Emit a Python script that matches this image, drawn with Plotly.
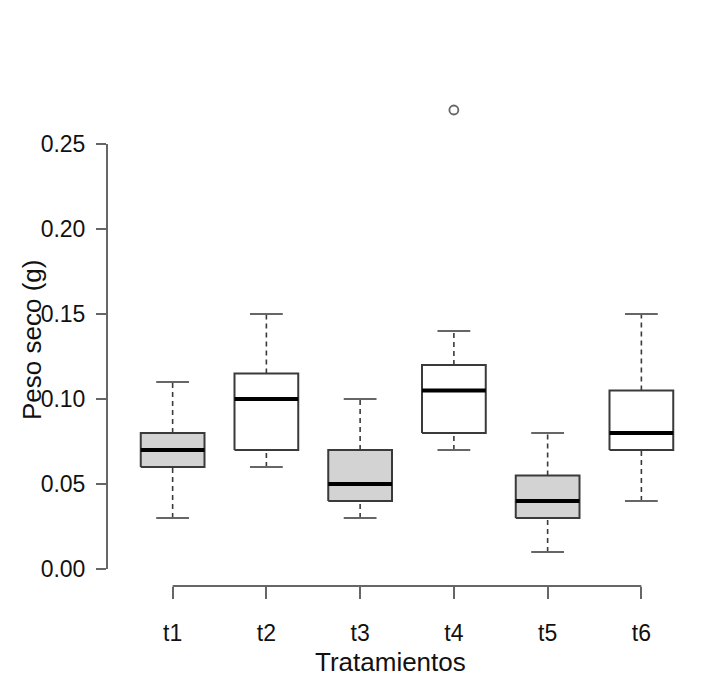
import plotly.graph_objects as go

categories = ["t1", "t2", "t3", "t4", "t5", "t6"]
lower_whisker = [0.03, 0.06, 0.03, 0.07, 0.01, 0.04]
q1 = [0.06, 0.07, 0.04, 0.08, 0.03, 0.07]
median = [0.07, 0.10, 0.05, 0.105, 0.04, 0.08]
q3 = [0.08, 0.115, 0.07, 0.12, 0.055, 0.105]
upper_whisker = [0.11, 0.15, 0.10, 0.14, 0.08, 0.15]
fills = ["#d3d3d3", "#ffffff", "#d3d3d3", "#ffffff", "#d3d3d3", "#ffffff"]
outlier_cat = ["t4"]
outlier_val = [0.27]
yticks = [0.00, 0.05, 0.10, 0.15, 0.20, 0.25]

HW = 0.34   # box half width (category units)
CW = 0.175  # cap half width
LINE = "#3a3a3a"
AX = "#666666"

fig = go.Figure()
pos = {c: i + 1 for i, c in enumerate(categories)}

# whiskers (dashed)
wx, wy = [], []
for i, c in enumerate(categories):
    p = pos[c]
    wx += [p, p, None, p, p, None]
    wy += [lower_whisker[i], q1[i], None, q3[i], upper_whisker[i], None]
fig.add_trace(go.Scatter(x=wx, y=wy, mode="lines",
                         line=dict(color=LINE, width=1.6, dash="5px,4px"),
                         hoverinfo="skip", showlegend=False))
# caps
cx, cy = [], []
for i, c in enumerate(categories):
    p = pos[c]
    cx += [p - CW, p + CW, None, p - CW, p + CW, None]
    cy += [lower_whisker[i], lower_whisker[i], None, upper_whisker[i], upper_whisker[i], None]
fig.add_trace(go.Scatter(x=cx, y=cy, mode="lines",
                         line=dict(color=AX, width=2),
                         hoverinfo="skip", showlegend=False))
# boxes
for i, c in enumerate(categories):
    p = pos[c]
    fig.add_trace(go.Scatter(
        x=[p - HW, p + HW, p + HW, p - HW, p - HW],
        y=[q1[i], q1[i], q3[i], q3[i], q1[i]],
        mode="lines", fill="toself", fillcolor=fills[i],
        line=dict(color=LINE, width=2),
        hoverinfo="skip", showlegend=False))
# medians
mx, my = [], []
for i, c in enumerate(categories):
    p = pos[c]
    mx += [p - HW, p + HW, None]
    my += [median[i], median[i], None]
fig.add_trace(go.Scatter(x=mx, y=my, mode="lines",
                         line=dict(color="#000000", width=4),
                         hoverinfo="skip", showlegend=False))
# outliers
fig.add_trace(go.Scatter(x=[pos[c] for c in outlier_cat], y=outlier_val, mode="markers",
                         marker=dict(symbol="circle-open", size=9, color=AX,
                                     line=dict(width=1.8, color=AX)),
                         hoverinfo="skip", showlegend=False))

# detached R-style axis lines
fig.add_shape(type="line", xref="x", yref="paper", x0=1, x1=len(categories), y0=0, y1=0,
              line=dict(color=AX, width=2))
fig.add_shape(type="line", xref="paper", yref="y", x0=0, x1=0, y0=yticks[0], y1=yticks[-1],
              line=dict(color=AX, width=2))

FONT = "Liberation Sans, Arial, sans-serif"
L, T, W, H = 99, 84, 600, 494
fig.update_layout(
    width=719, height=697,
    margin=dict(l=L, r=719 - L - W, t=T, b=697 - T - H),
    plot_bgcolor="white", paper_bgcolor="white",
    font=dict(family=FONT, color="#111111"),
    xaxis=dict(range=[0.3, 6.7], tickvals=list(range(1, len(categories) + 1)),
               ticktext=categories, showgrid=False, zeroline=False, showline=False,
               ticks="outside", ticklen=12, tickwidth=2, tickcolor=AX,
               tickfont=dict(size=23, family=FONT, color="#111111"),
               ticklabelstandoff=14),
    yaxis=dict(range=[-0.01, 0.2806], tickvals=yticks,
               ticktext=[f"{v:.2f}" for v in yticks],
               showgrid=False, zeroline=False, showline=False,
               ticks="outside", ticklen=10, tickwidth=2, tickcolor=AX,
               tickfont=dict(size=23, family=FONT, color="#111111"),
               ticklabelstandoff=6),
)
fig.add_annotation(text="Tratamientos", xref="paper", yref="paper",
                   x=(390 - 107) / W, y=-(662 - 586) / H, xanchor="center", yanchor="middle",
                   showarrow=False, font=dict(size=26, family=FONT, color="#111111"))
fig.add_annotation(text="Peso seco (g)", xref="paper", yref="paper",
                   x=-(107 - 32) / W, y=(586 - 340) / H, xanchor="center", yanchor="middle",
                   textangle=-90, showarrow=False, font=dict(size=26, family=FONT, color="#111111"))

fig.write_html("out.html")
